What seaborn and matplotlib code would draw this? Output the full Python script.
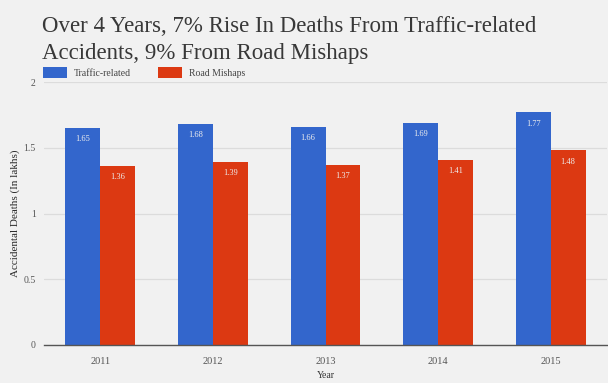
import matplotlib
matplotlib.use("Agg")
import matplotlib.pyplot as plt
from matplotlib.patches import Rectangle
import seaborn as sns
import pandas as pd

years = ["2011", "2012", "2013", "2014", "2015"]
traffic_related = [1.65, 1.68, 1.66, 1.69, 1.77]
road_mishaps = [1.36, 1.39, 1.37, 1.41, 1.48]
series_names = ["Traffic-related", "Road Mishaps"]
y_ticks = [0, 0.5, 1, 1.5, 2]
y_tick_labels = ["0", "0.5", "1", "1.5", "2"]

df = pd.DataFrame({
    "Year": years * 2,
    "Deaths": traffic_related + road_mishaps,
    "Series": [series_names[0]] * len(years) + [series_names[1]] * len(years),
})

sns.set_theme(style="white")
plt.rcParams["font.family"] = ["Liberation Serif", "DejaVu Serif"]

bg = "#f1f1f1"
palette = {"Traffic-related": "#3366cc", "Road Mishaps": "#dc3912"}

fig = plt.figure(figsize=(6.08, 3.83), dpi=100, facecolor=bg)
ax = fig.add_axes([44 / 608, 1 - 345 / 383, 563 / 608, (345 - 82) / 383])
ax.set_facecolor(bg)

sns.barplot(data=df, x="Year", y="Deaths", hue="Series", palette=palette,
            width=0.62, gap=0, saturation=1, linewidth=0, legend=False,
            ax=ax, zorder=3)

ax.set_ylim(0, 2)
ax.set_xlim(-0.5, 4.5)
ax.set_yticks(y_ticks)
ax.set_yticklabels(y_tick_labels)
ax.yaxis.grid(True, color="#dcdcdc", linewidth=0.9, zorder=0)
ax.set_axisbelow(True)
for s in ["top", "right", "left"]:
    ax.spines[s].set_visible(False)
ax.spines["bottom"].set_color("#555555")
ax.spines["bottom"].set_linewidth(1.0)
ax.spines["bottom"].set_zorder(4)
ax.tick_params(axis="y", length=0, labelsize=7, colors="#555555", pad=6)
ax.tick_params(axis="x", length=0, labelsize=7.5, colors="#555555", pad=9)
ax.set_xlabel("Year", fontsize=7, color="#333333", va="center")
ax.xaxis.set_label_coords(0.5, -31 / 263)
ax.set_ylabel("Accidental Deaths (In lakhs)", fontsize=8, color="#2a2a2a")
ax.yaxis.set_label_coords(-24 / 563, 0.5)

# value labels inside the top of each bar
for container in ax.containers:
    ax.bar_label(container, fmt="%.2f", label_type="edge", padding=-11,
                 fontsize=6, color="#eeeeee")

# title
title_kw = dict(fontsize=16.5, color="#383838", ha="left", va="baseline")
fig.text(42 / 608, 1 - 32 / 383,
         "Over 4 Years, 7% Rise In Deaths From Traffic-related", **title_kw)
fig.text(42 / 608, 1 - 59 / 383, "Accidents, 9% From Road Mishaps", **title_kw)

# legend row
legend_items = [(43, series_names[0], palette[series_names[0]]),
                (158, series_names[1], palette[series_names[1]])]
for x0, name, col in legend_items:
    fig.patches.append(Rectangle((x0 / 608, 1 - 78 / 383), 24 / 608, 11 / 383,
                                 transform=fig.transFigure, facecolor=col,
                                 edgecolor="none"))
    fig.text((x0 + 31) / 608, 1 - 76 / 383, name, fontsize=7, color="#444444",
             ha="left", va="baseline")

fig.savefig("out.png", dpi=100, facecolor=bg)
